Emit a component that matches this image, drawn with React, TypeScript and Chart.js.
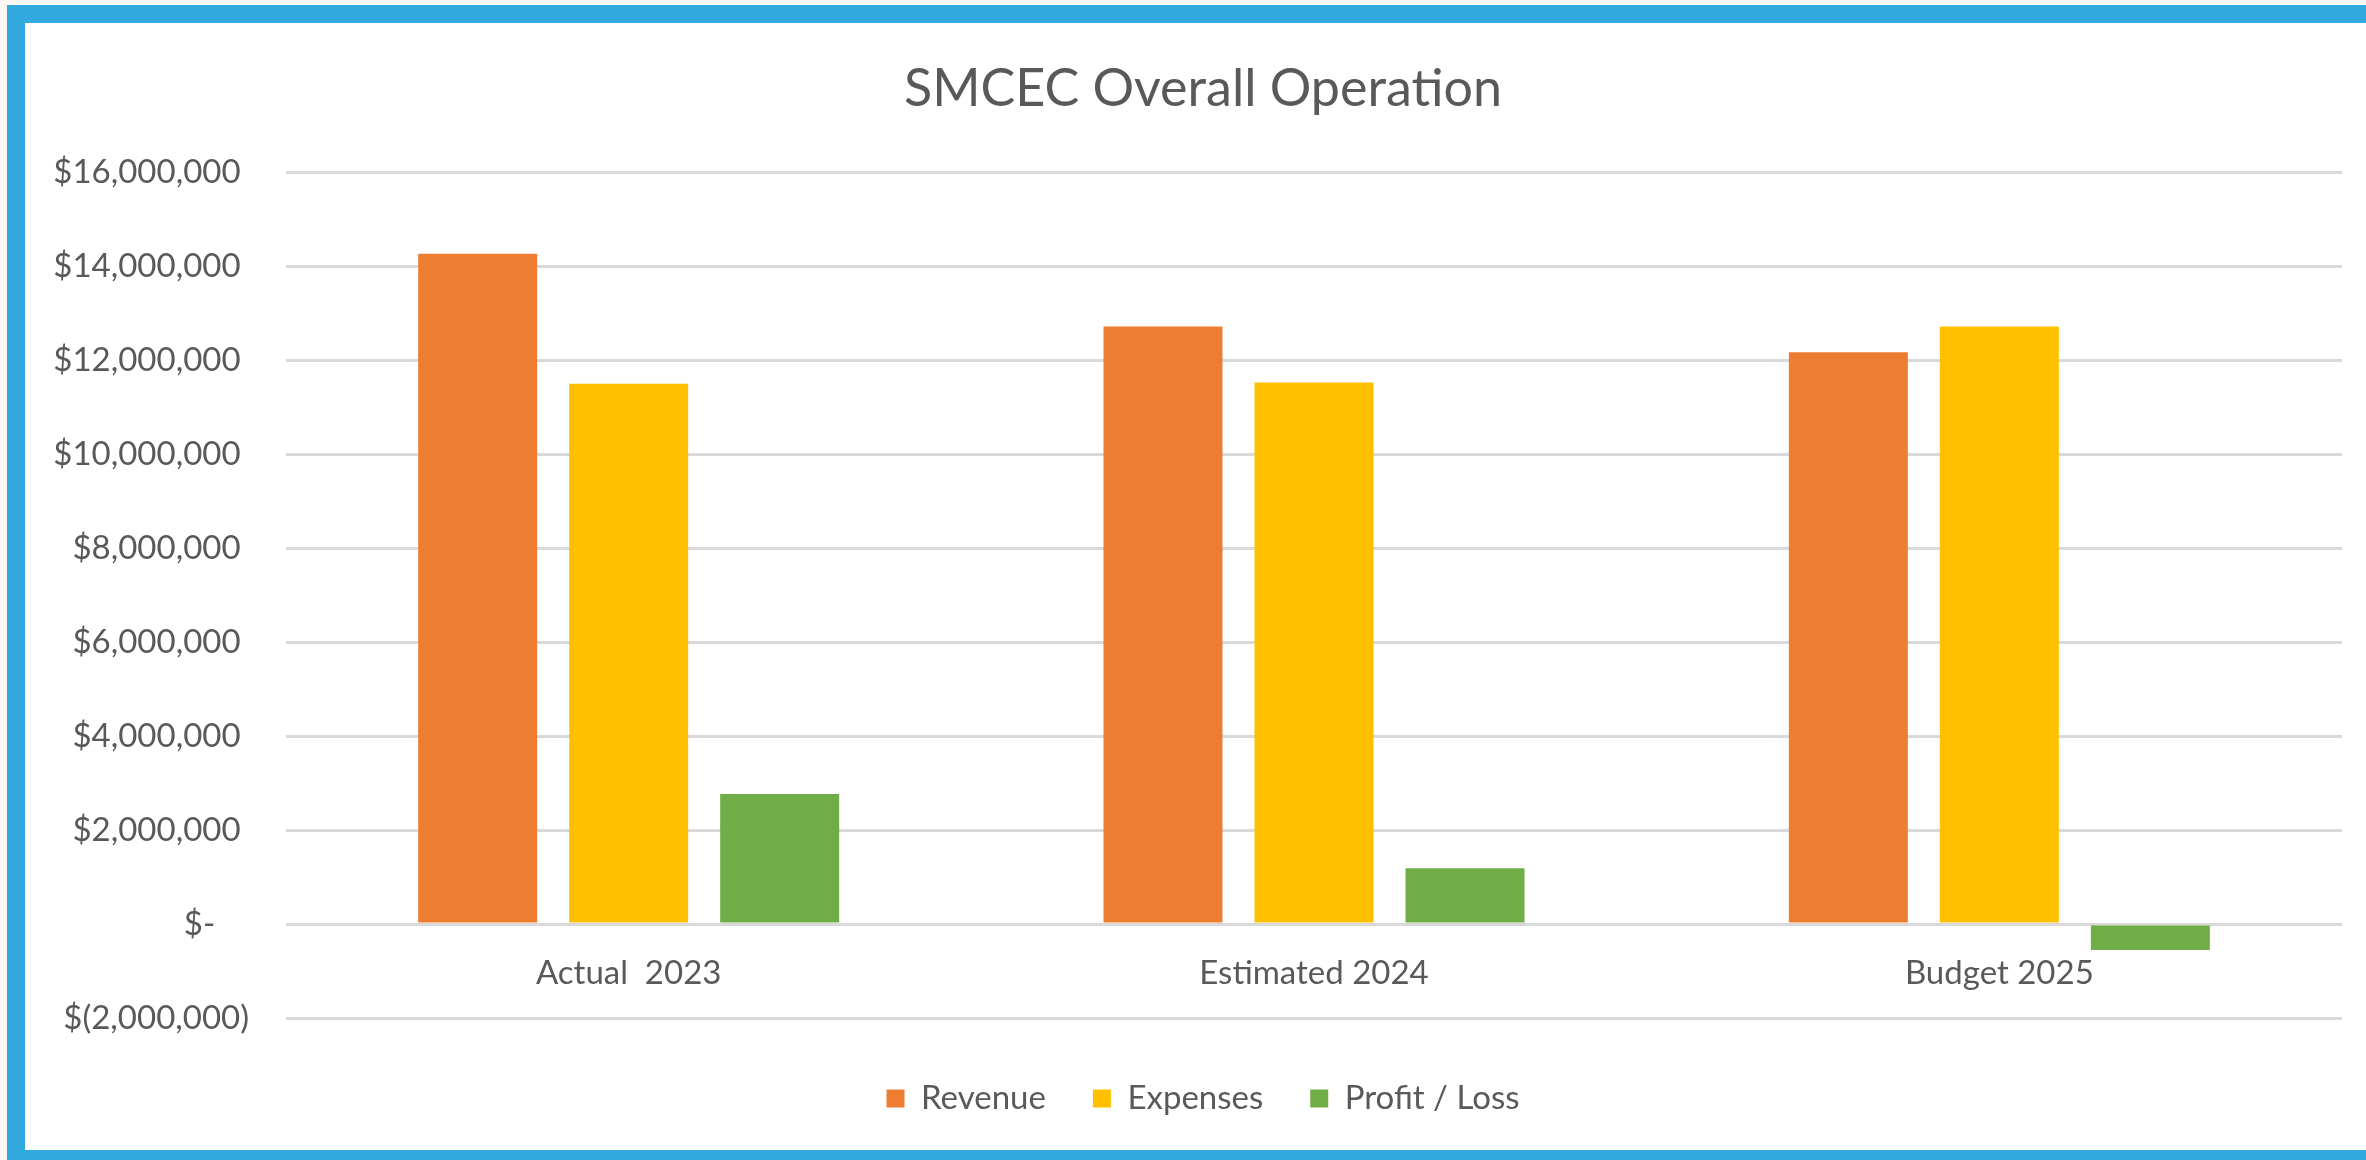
import React, { useEffect, useRef } from "react";
import { Chart, registerables } from "chart.js";

Chart.register(...registerables);

const categories = ["Actual  2023", "Estimated 2024", "Budget 2025"];
const seriesNames = ["Revenue", "Expenses", "Profit / Loss"];
const revenue = [14270000, 12720000, 12170000];
const expenses = [11500000, 11530000, 12720000];
const profitLoss = [2770000, 1190000, -550000];
const seriesColors = ["#ED7D31", "#FFC000", "#70AD47"];
const yMin = -2000000;
const yMax = 16000000;
const yStep = 2000000;
const titleText = "SMCEC Overall Operation";

const FONT = "Lato";
const TEXT = "#595959";

function groupDigits(n: number): string {
  return String(Math.round(n)).replace(/\B(?=(\d{3})+(?!\d))/g, ",");
}

function accounting(v: number): string {
  if (v === 0) return "$-    ";
  if (v < 0) return "$(" + groupDigits(-v) + ")";
  return "$" + groupDigits(v) + " ";
}

export default function App() {
  const ref = useRef<HTMLCanvasElement | null>(null);

  useEffect(() => {
    if (!ref.current) return;
    const chart = new Chart(ref.current, {
      type: "bar",
      data: {
        labels: categories,
        datasets: [revenue, expenses, profitLoss].map((d, i) => ({
          label: seriesNames[i],
          data: d,
          backgroundColor: seriesColors[i],
          borderWidth: 0,
          xAxisID: "x",
          yAxisID: "y",
          categoryPercentage: 0.661,
          barPercentage: 0.788,
        })),
      },
      options: {
        animation: false,
        responsive: false,
        maintainAspectRatio: false,
        layout: { padding: { left: 0, right: 25, top: 0, bottom: 25 } },
        plugins: {
          title: {
            display: true,
            text: titleText,
            color: TEXT,
            font: { family: FONT, size: 52, weight: "normal" },
            padding: { top: 35, bottom: 52 },
          },
          legend: {
            display: true,
            position: "bottom",
            labels: {
              color: TEXT,
              font: { family: FONT, size: 33 },
              boxWidth: 18,
              boxHeight: 18,
              padding: 47,
            },
          },
          tooltip: { enabled: false },
        },
        scales: {
          x: {
            type: "category",
            position: { y: 0 } as any,
            grid: { display: false },
            border: { display: false },
            ticks: {
              color: TEXT,
              font: { family: FONT, size: 33 },
              padding: 22,
              maxRotation: 0,
            },
          },
          spacer: {
            type: "category",
            axis: "x",
            position: "bottom",
            labels: categories,
            grid: { display: false },
            border: { display: false },
            ticks: { display: false },
            afterFit: (s: any) => {
              s.height = 17;
            },
          },
          y: {
            min: yMin,
            max: yMax,
            position: "left",
            grid: { color: "#d9d9d9", lineWidth: 3, drawTicks: false },
            border: { display: false },
            ticks: {
              stepSize: yStep,
              color: TEXT,
              font: { family: FONT, size: 33 },
              padding: 37,
              callback: (v: any) => accounting(Number(v)),
            },
            afterFit: (s: any) => {
              s.width = 261;
            },
          },
          spacerR: {
            type: "linear",
            axis: "y",
            position: "right",
            grid: { display: false },
            border: { display: false },
            ticks: { display: false },
            afterFit: (s: any) => {
              s.width = 39;
            },
          },
        },
      } as any,
    });
    return () => chart.destroy();
  }, []);

  return (
    <div
      style={{
        position: "fixed",
        left: 0,
        top: 0,
        width: 2366,
        height: 1160,
        background: "#fdf8f3",
        overflow: "hidden",
      }}
    >
      <div
        style={{
          position: "absolute",
          left: 7,
          top: 5,
          width: 2399,
          height: 1155,
          boxSizing: "border-box",
          borderTop: "18px solid #32a9de",
          borderLeft: "18px solid #32a9de",
          borderBottom: "10px solid #32a9de",
          background: "#ffffff",
        }}
      >
        <canvas
          ref={ref}
          width={2381}
          height={1127}
          style={{ display: "block", width: 2381, height: 1127 }}
        />
      </div>
    </div>
  );
}
